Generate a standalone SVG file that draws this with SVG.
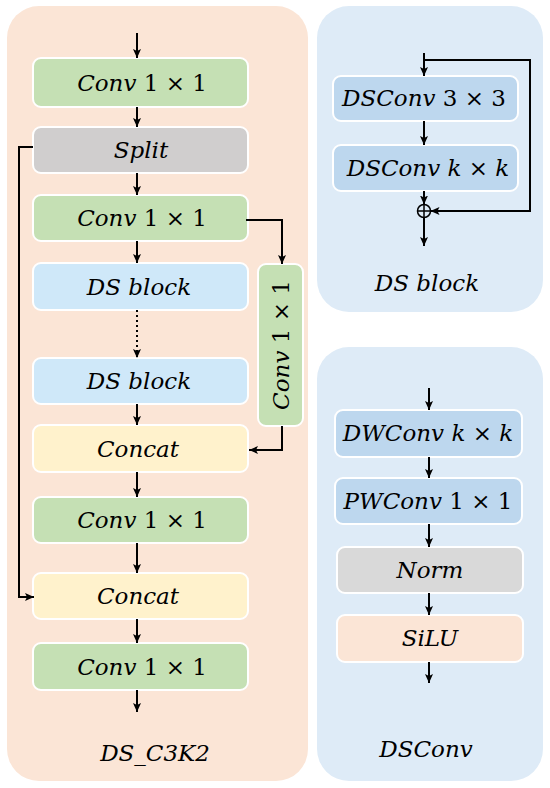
<svg xmlns="http://www.w3.org/2000/svg" width="550" height="788" viewBox="0 0 550 788">
<defs>
<marker id="ah" markerUnits="userSpaceOnUse" markerWidth="10" markerHeight="10" refX="9" refY="5" orient="auto">
<path d="M0,1 L9,5 L0,9 L2,5 Z" fill="#000"/>
</marker>
</defs>
<style>
.panelA{fill:#FBE5D6;}
.panelB{fill:#DEEBF7;}
.box{stroke:#fff;stroke-width:2;}
.green{fill:#C5E0B4;}
.grey{fill:#D0CECE;}
.lblue{fill:#CFE8F9;}
.yellow{fill:#FFF2CC;}
.blue{fill:#BDD7EE;}
.norm{fill:#D9D9D9;}
.peach{fill:#FBE5D6;}
text{font-family:"DejaVu Serif","Liberation Serif",serif;font-size:23px;fill:#000;text-anchor:middle;}
.i{font-style:italic;}
.c{fill:none;stroke:#000;stroke-width:2;}
.a{marker-end:url(#ah);}
</style>

<g id="panel-ds-c3k2">
<rect class="panelA" x="7" y="6" width="301" height="775" rx="32"/>
<text class="i" x="155" y="761">DS_C3K2</text>
</g>
<g id="panel-ds-block">
<rect class="panelB" x="317" y="6" width="226" height="306" rx="32"/>
<text class="i" x="427" y="291">DS block</text>
</g>
<g id="panel-dsconv">
<rect class="panelB" x="317" y="347" width="226" height="434" rx="32"/>
<text class="i" x="426" y="757">DSConv</text>
</g>

<g id="conv1"><rect class="box green" x="33" y="58" width="215" height="49" rx="8"/><text x="142" y="91"><tspan class="i">Conv</tspan> 1 × 1</text></g>
<g id="split"><rect class="box grey" x="33" y="127" width="215" height="46" rx="8"/><text class="i" x="141" y="158">Split</text></g>
<g id="conv2"><rect class="box green" x="33" y="195" width="215" height="46" rx="8"/><text x="142" y="226"><tspan class="i">Conv</tspan> 1 × 1</text></g>
<g id="dsblock1"><rect class="box lblue" x="33" y="263" width="215" height="47" rx="8"/><text class="i" x="139" y="295">DS block</text></g>
<g id="dsblock2"><rect class="box lblue" x="33" y="358" width="215" height="46" rx="8"/><text class="i" x="139" y="389">DS block</text></g>
<g id="conv-side"><rect class="box green" x="258" y="264" width="45" height="162" rx="8"/><text x="0" y="0" transform="translate(289,345) rotate(-90)"><tspan class="i">Conv</tspan> 1 × 1</text></g>
<g id="concat1"><rect class="box yellow" x="33" y="425" width="215" height="47" rx="8"/><text class="i" x="138" y="457">Concat</text></g>
<g id="conv3"><rect class="box green" x="33" y="497" width="215" height="46" rx="8"/><text x="142" y="528"><tspan class="i">Conv</tspan> 1 × 1</text></g>
<g id="concat2"><rect class="box yellow" x="33" y="573" width="215" height="46" rx="8"/><text class="i" x="138" y="604">Concat</text></g>
<g id="conv4"><rect class="box green" x="33" y="643" width="215" height="47" rx="8"/><text x="142" y="675"><tspan class="i">Conv</tspan> 1 × 1</text></g>

<g id="dsconv33"><rect class="box blue" x="333" y="76" width="185" height="45" rx="8"/><text x="424" y="106"><tspan class="i">DSConv</tspan> 3 × 3</text></g>
<g id="dsconvkk"><rect class="box blue" x="333" y="145" width="185" height="46" rx="8"/><text x="428" y="176"><tspan class="i">DSConv k</tspan> × <tspan class="i">k</tspan></text></g>
<g id="add"><circle cx="424" cy="211" r="6.5" fill="none" stroke="#000" stroke-width="1.5"/><path d="M417.5,211 H430.5 M424,204.5 V217.5" stroke="#000" stroke-width="1.5"/></g>

<g id="dwconv"><rect class="box blue" x="335" y="410" width="187" height="47" rx="8"/><text x="428" y="441"><tspan class="i">DWConv k</tspan> × <tspan class="i">k</tspan></text></g>
<g id="pwconv"><rect class="box blue" x="335" y="478" width="187" height="46" rx="8"/><text x="428" y="509"><tspan class="i">PWConv</tspan> 1 × 1</text></g>
<g id="norm"><rect class="box norm" x="337" y="547" width="186" height="46" rx="8"/><text class="i" x="430" y="578">Norm</text></g>
<g id="silu"><rect class="box peach" x="337" y="615" width="186" height="47" rx="8"/><text class="i" x="430" y="646">SiLU</text></g>

<g id="connectors">
<path class="c a" d="M137,33 V58"/>
<path class="c a" d="M137,107 V127"/>
<path class="c a" d="M137,173 V195"/>
<path class="c a" d="M137,241 V263"/>
<path class="c a" d="M137,310 V358" stroke-dasharray="2,3"/>
<path class="c a" d="M137,404 V425"/>
<path class="c a" d="M137,472 V497"/>
<path class="c a" d="M137,543 V573"/>
<path class="c a" d="M137,619 V643"/>
<path class="c a" d="M137,690 V712"/>
<path class="c a" d="M33,147 H19 V597 H34"/>
<path class="c a" d="M246,220 H282 V264"/>
<path class="c a" d="M282,426 V450 H249"/>

<path class="c a" d="M424,53 V76"/>
<path class="c a" d="M424,121 V145"/>
<path class="c a" d="M424,191 V204.5"/>
<path class="c a" d="M424,60 H530 V211 H430.5"/>
<path class="c a" d="M424,217.5 V246"/>

<path class="c a" d="M429,388 V410"/>
<path class="c a" d="M429,457 V478"/>
<path class="c a" d="M429,524 V547"/>
<path class="c a" d="M429,593 V615"/>
<path class="c a" d="M429,662 V683"/>
</g>
</svg>
